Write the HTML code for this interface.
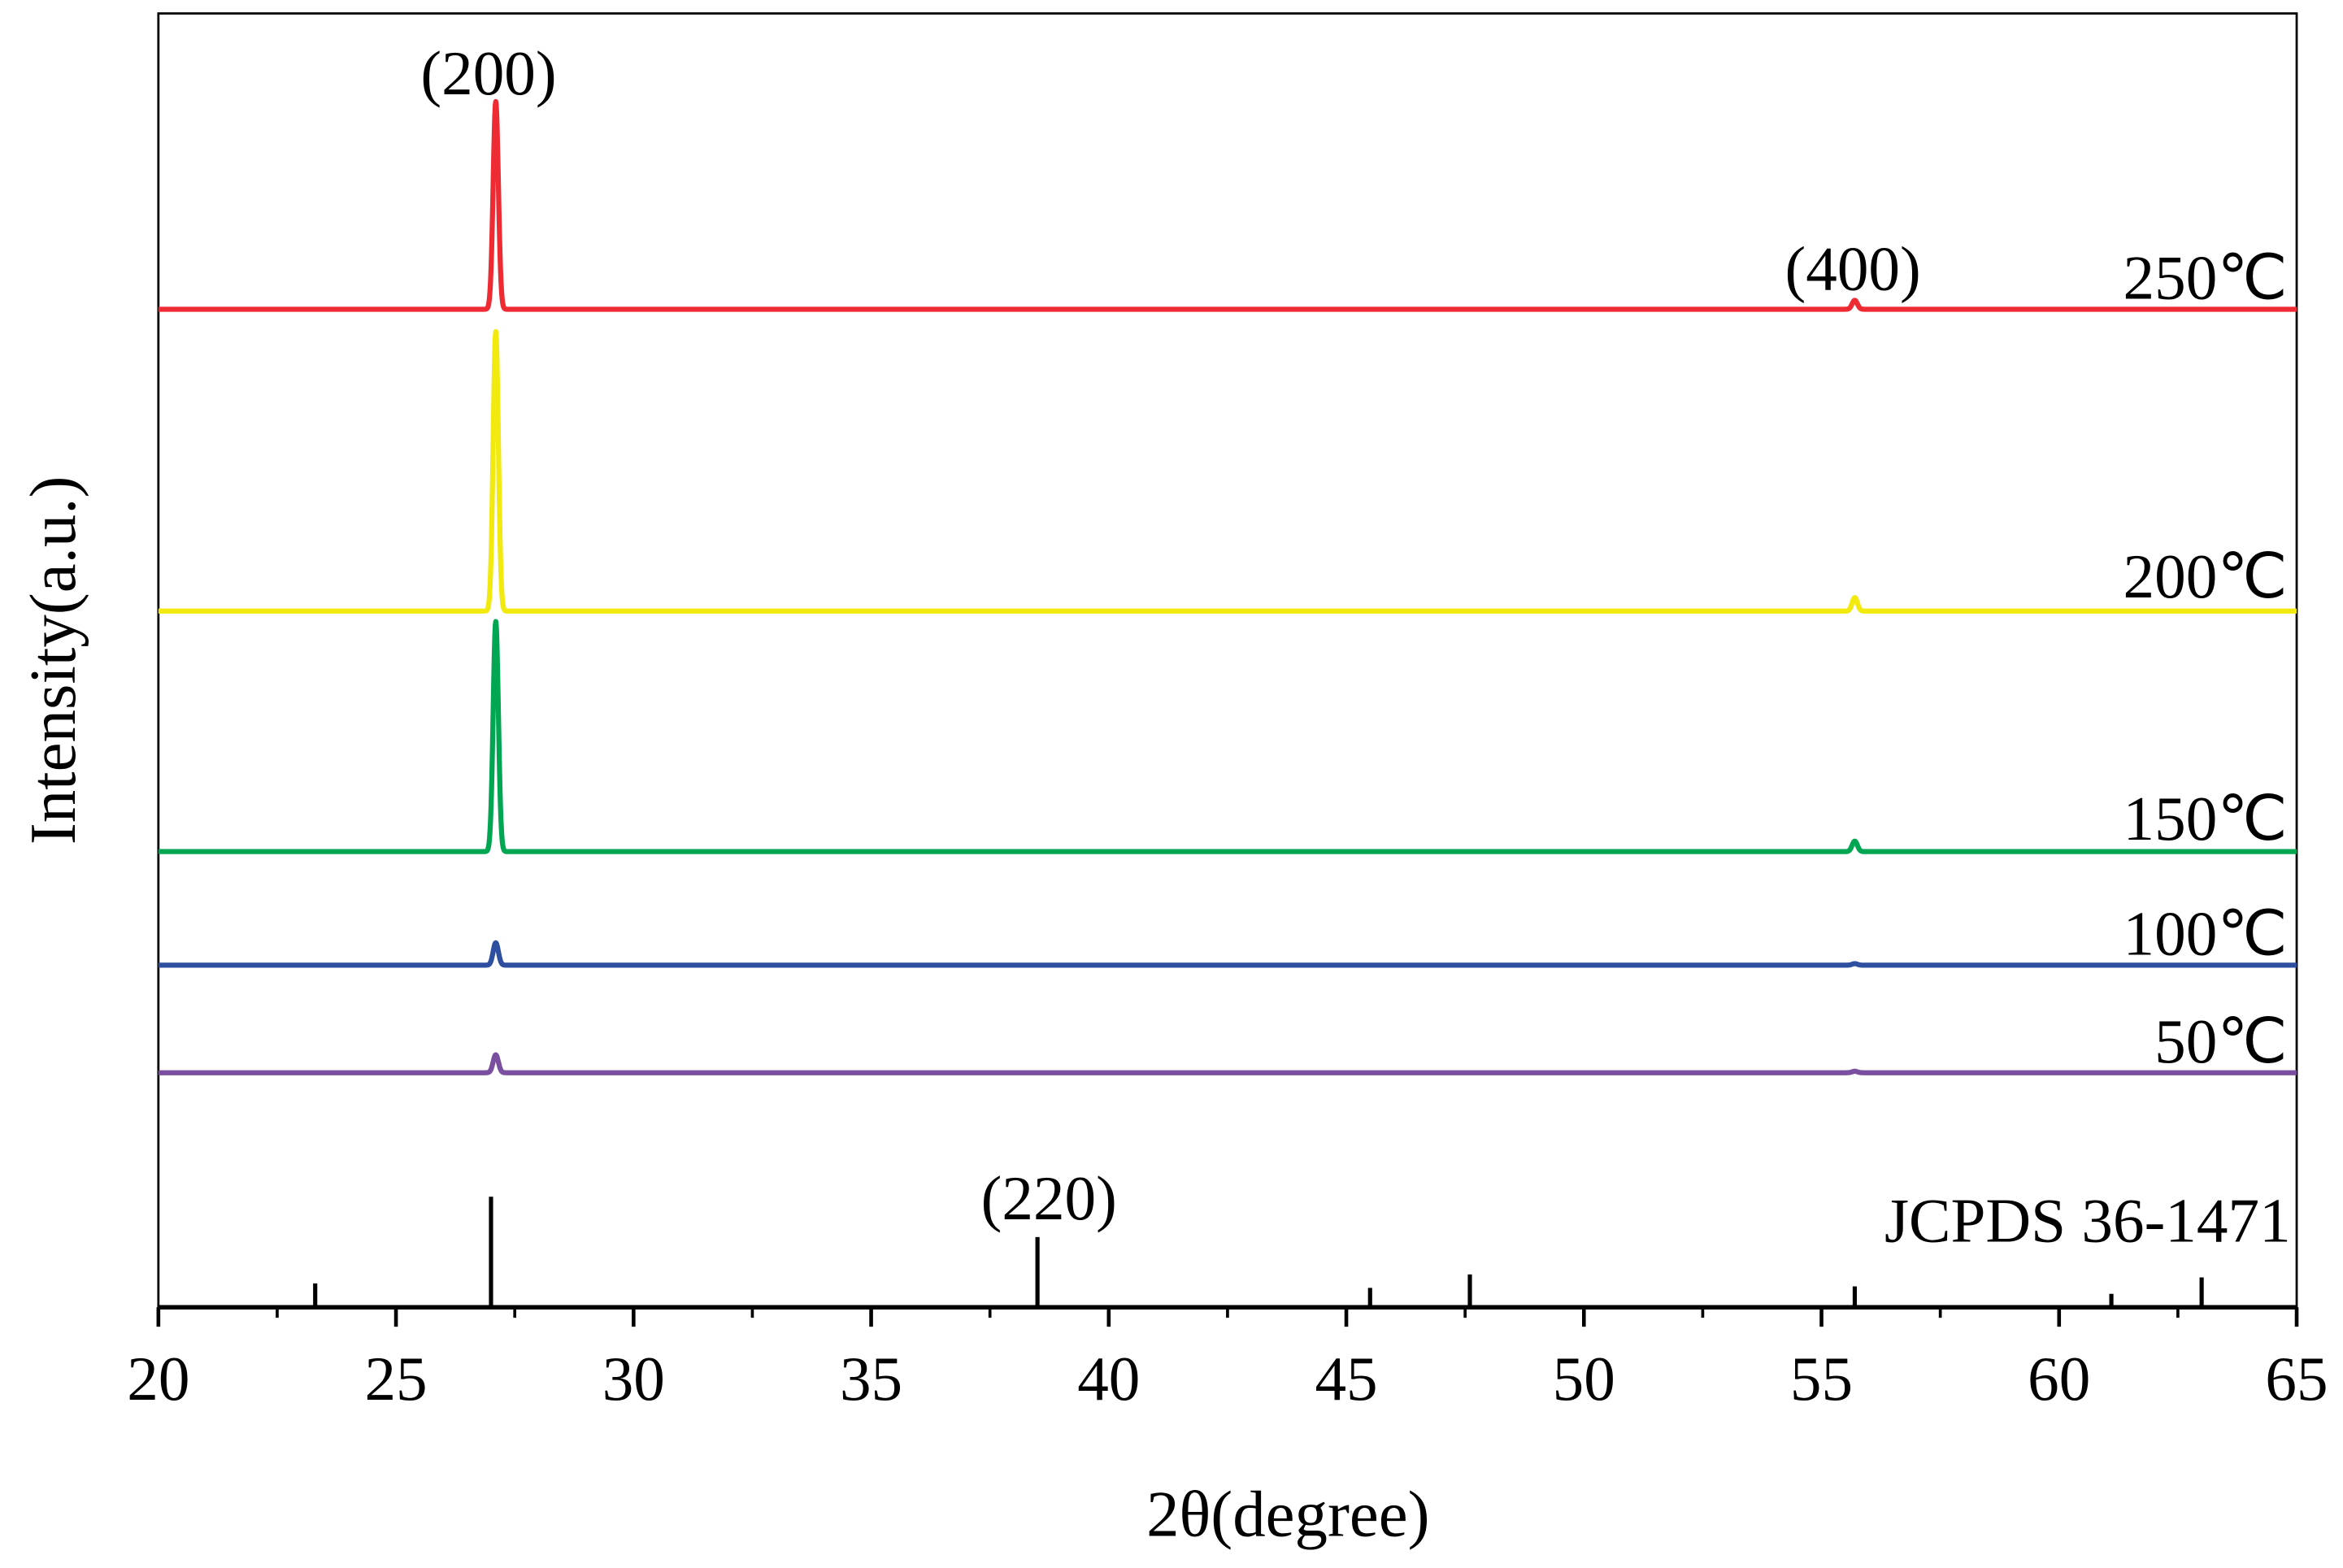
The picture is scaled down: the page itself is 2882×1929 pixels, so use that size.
<!DOCTYPE html>
<html><head><meta charset="utf-8"><style>
html,body{margin:0;padding:0;background:#fff;}
svg{display:block;}
text{font-family:"Liberation Serif",serif;fill:#000;}
</style></head>
<body>
<svg id="chart" width="2882" height="1929" viewBox="0 0 1568 1049.5" preserveAspectRatio="none" xmlns="http://www.w3.org/2000/svg">
<g id="plot"></g>
<text x="862" y="1028" font-size="44" text-anchor="middle">2θ(degree)</text>
<text transform="translate(50,442) rotate(-90)" font-size="44" text-anchor="middle">Intensity(a.u.)</text>
<text x="327" y="63" font-size="42" text-anchor="middle">(200)</text>
<text x="1240" y="194" font-size="42" text-anchor="middle">(400)</text>
<text x="702" y="816" font-size="42" text-anchor="middle">(220)</text>
<text x="1533" y="831" font-size="42" text-anchor="end">JCPDS 36-1471</text>
</svg>
<script>
const xMin = 20, xMax = 65;
const xTicks = [20,25,30,35,40,45,50,55,60,65];
const xMinorTicks = [22.5,27.5,32.5,37.5,42.5,47.5,52.5,57.5,62.5];
const seriesNames = ["250℃","200℃","150℃","100℃","50℃"];
const seriesColors = ["#ee2a33","#f2e90f","#00a651","#2e4f9f","#7b4fa0"];
const seriesOffsets = [668, 466, 305, 229, 157];
const peak200Heights = [139, 187, 154, 15, 12];
const peak400Heights = [6, 9, 7, 1, 1];
const peakPositions = [27.1, 55.7];
const labelOffsets = [689, 489, 327, 250, 178];
const refPositions = [23.3, 27.0, 38.5, 45.5, 47.6, 55.7, 61.1, 63.0];
const refHeights = [16, 74, 47, 13, 22, 14, 9, 20];

const L = 106, R = 1537, T = 9, B = 875;
const sx = v => L + (v - xMin) / (xMax - xMin) * (R - L);
const sy = v => B - v;
const NS = "http://www.w3.org/2000/svg";
const plot = document.getElementById('plot');
function mk(tag, attrs){const e=document.createElementNS(NS,tag);for(const k in attrs)e.setAttribute(k,attrs[k]);plot.appendChild(e);return e;}

let fr = mk('rect',{x:L,y:T,width:R-L,height:B-T,fill:'none',stroke:'#000','stroke-width':1.5});


let ax = mk('line',{x1:L,y1:B,x2:R,y2:B,stroke:'#000','stroke-width':3});



xTicks.forEach(t=>{
  const l = mk('line',{x1:sx(t),y1:B,x2:sx(t),y2:B+13,stroke:'#000','stroke-width':2.5});
  
  
  const tx = mk('text',{x:sx(t),y:B+62,'font-size':42,'text-anchor':'middle'});
  tx.textContent = t;
  
  
});
xMinorTicks.forEach(t=>{
  const l = mk('line',{x1:sx(t),y1:B,x2:sx(t),y2:B+7,stroke:'#000','stroke-width':2});
  
  
});

refPositions.forEach((p,i)=>{
  const l = mk('line',{x1:sx(p),y1:B,x2:sx(p),y2:sy(refHeights[i]),stroke:'#000','stroke-width':2.8});
  
  
});

seriesNames.forEach((name,i)=>{
  const hts = [peak200Heights[i], peak400Heights[i]];
  let d = '';
  for (let x = xMin; x <= xMax + 1e-9; x += 0.01) {
    let v = seriesOffsets[i];
    peakPositions.forEach((p,j)=>{ v += hts[j]*Math.exp(-Math.pow((x-p)/0.055,2)/2); });
    d += (d?'L':'M') + sx(x).toFixed(2) + ',' + sy(v).toFixed(2);
  }
  const path = mk('path',{d:d,fill:'none',stroke:seriesColors[i],'stroke-width':3.4,'stroke-linejoin':'round'});
  
  
  const lb = mk('text',{x:1531,y:sy(labelOffsets[i])+14,'font-size':42,'text-anchor':'end'});
  lb.textContent = name;
  
  
});
</script>
</body></html>
